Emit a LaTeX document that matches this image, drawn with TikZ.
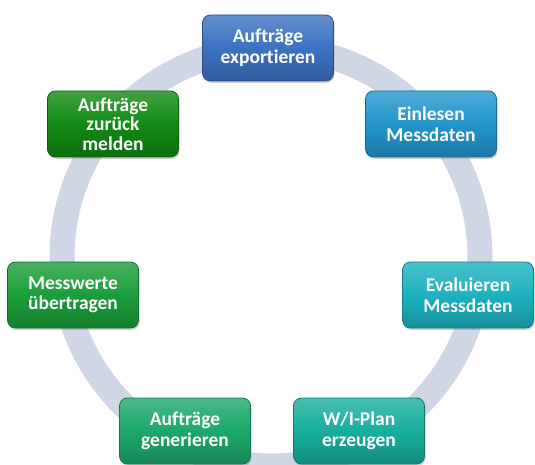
\documentclass[tikz,border=0pt]{standalone}
\usepackage{fontspec}
\setmainfont{Carlito}[Ligatures=NoCommon]
\usetikzlibrary{shadows}
\definecolor{ringc}{RGB}{207,214,230}
\definecolor{cA}{RGB}{60,114,194}
\definecolor{cB}{RGB}{34,150,204}
\definecolor{cC}{RGB}{28,178,192}
\definecolor{cD}{RGB}{24,174,156}
\definecolor{cE}{RGB}{28,168,106}
\definecolor{cF}{RGB}{26,158,58}
\definecolor{cG}{RGB}{18,138,20}
\tikzset{
  stepbox/.style={draw=#1!70!black, line width=0.8pt, rounded corners=8pt,
    minimum width=131pt, minimum height=66pt, inner sep=1pt,
    top color=#1!80!white, bottom color=#1!80!black, middle color=#1,
    text=white, font=\bfseries\fontsize{19.5}{20.5}\selectfont, align=center,
    drop shadow={shadow xshift=1pt, shadow yshift=-2pt, opacity=0.35}},
}
\begin{document}
\begin{tikzpicture}[x=1pt,y=-1pt]
\useasboundingbox (0,0) rectangle (535,465);
\begin{scope}
\clip (0,0) rectangle (535,465);
\draw[ringc, line width=25pt] (271,257) circle[radius=209];
\end{scope}
\node[stepbox=cA] (n1) at (268,48) {Aufträge\\exportieren};
\node[stepbox=cB] (n2) at (431,124) {Einlesen\\Messdaten};
\node[stepbox=cC] (n3) at (468,295) {Evaluieren\\Messdaten};
\node[stepbox=cD] (n4) at (359,431) {W/I-Plan\\erzeugen};
\node[stepbox=cE] (n5) at (185,431) {Aufträge\\generieren};
\node[stepbox=cF] (n6) at (73,295) {Messwerte\\übertragen};
\node[stepbox=cG, font=\bfseries\fontsize{19.5}{19.5}\selectfont] (n7) at (113,124) {Aufträge\\zurück\\melden};
\end{tikzpicture}
\end{document}
